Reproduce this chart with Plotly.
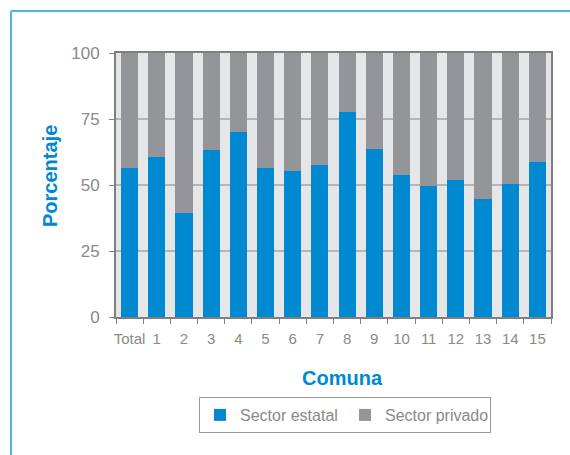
import plotly.graph_objects as go

categories = ["Total", "1", "2", "3", "4", "5", "6", "7", "8", "9", "10", "11", "12", "13", "14", "15"]
sector_estatal = [56.5, 60.6, 39.4, 63.3, 70.1, 56.5, 55.3, 57.6, 77.7, 63.7, 53.8, 49.6, 51.9, 44.7, 50.4, 58.7]
sector_privado = [round(100 - v, 1) for v in sector_estatal]
y_ticks = [0, 25, 50, 75, 100]

BLUE = "#0088d1"
GRAY = "#939598"
FRAME = "#4db8e8"
TXT = "#8a8a8a"
FONT = "Liberation Sans, Arial, sans-serif"

fig = go.Figure()
fig.add_trace(go.Bar(x=categories, y=sector_estatal, name="Sector estatal",
                     marker=dict(color=BLUE, line=dict(width=0))))
fig.add_trace(go.Bar(x=categories, y=sector_privado, name="Sector privado",
                     marker=dict(color=GRAY, line=dict(width=0))))

L, R, T, B = 116, 19, 53, 138
W, H = 570, 455
pw, ph = W - L - R, H - T - B

def px(x):
    return (x - L) / pw

def py(y):
    return (H - B - y) / ph

fig.update_layout(
    barmode="stack",
    bargap=0.37,
    width=W, height=H,
    margin=dict(l=L, r=R, t=T, b=B),
    paper_bgcolor="white",
    plot_bgcolor="#e5e6e8",
    font=dict(family=FONT, color=TXT),
    showlegend=True,
    legend=dict(orientation="h", x=px(345), xanchor="center", y=py(397), yanchor="top",
                bordercolor="#999999", borderwidth=1, font=dict(size=16, color=TXT),
                itemwidth=30, traceorder="normal", entrywidth=100),
    xaxis=dict(type="category", tickson="boundaries", ticks="outside", ticklen=5,
               tickcolor="#7f7f7f", showline=True, linecolor="#7f7f7f", linewidth=2,
               mirror=True, showgrid=False, tickangle=0, tickfont=dict(size=15, color=TXT),
               ticklabelstandoff=7),
    yaxis=dict(range=[0, 100], tickvals=y_ticks, ticks="outside", ticklen=5,
               tickcolor="#7f7f7f", showline=True, linecolor="#7f7f7f", linewidth=2,
               mirror=True, showgrid=True, gridcolor="#b5b5b5", gridwidth=1.5,
               zeroline=False, tickfont=dict(size=17, color=TXT), ticklabelstandoff=6),
    annotations=[
        dict(text="<b>Comuna</b>", xref="paper", yref="paper", x=px(342), y=py(378),
             xanchor="center", yanchor="middle", showarrow=False,
             font=dict(size=20, color=BLUE)),
        dict(text="<b>Porcentaje</b>", xref="paper", yref="paper", x=px(50), y=py(176),
             xanchor="center", yanchor="middle", showarrow=False, textangle=-90,
             font=dict(size=20, color=BLUE)),
    ],
    shapes=[
        dict(type="line", xref="paper", yref="paper", x0=px(11), x1=px(572), y0=py(11), y1=py(11),
             line=dict(color=FRAME, width=2)),
        dict(type="line", xref="paper", yref="paper", x0=px(11), x1=px(11), y0=py(11), y1=py(457),
             line=dict(color=FRAME, width=2)),
    ],
)

fig.write_html("out.html", config={"displayModeBar": False},
               post_script="document.body.style.margin='0';document.body.style.overflow='hidden';")
